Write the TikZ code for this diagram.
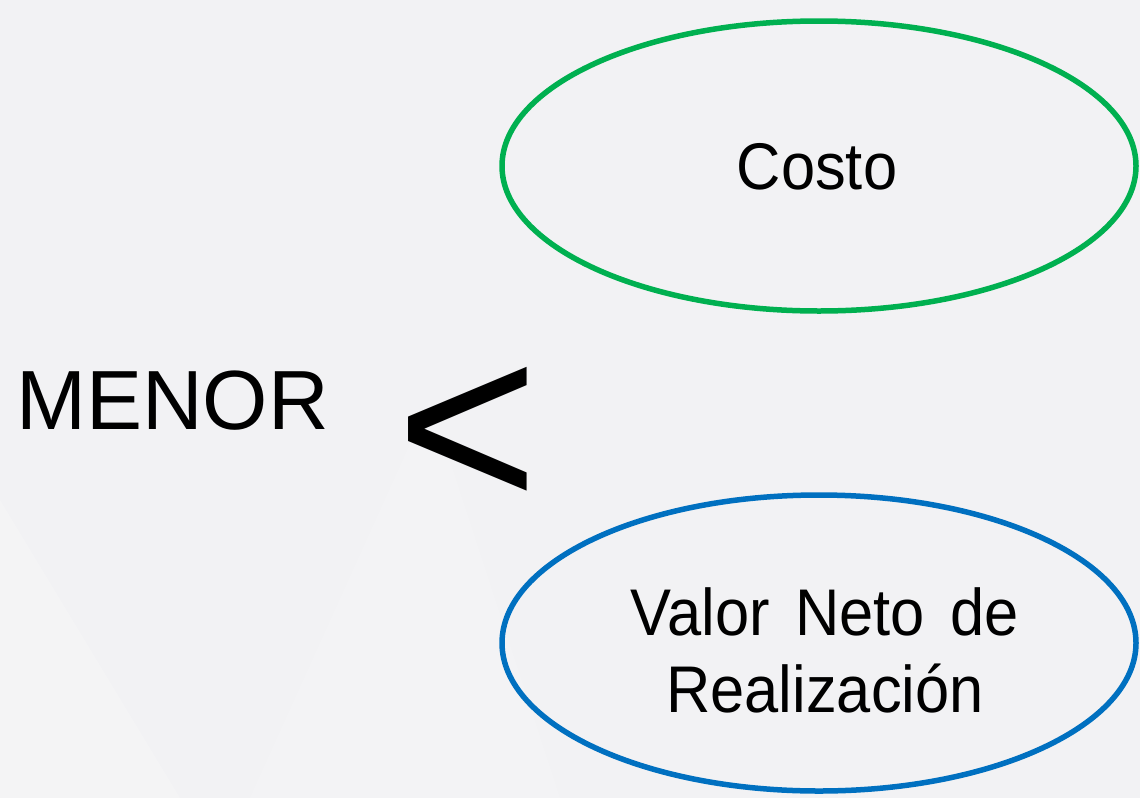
\documentclass[tikz,border=0pt]{standalone}
\usepackage{fontspec}
\setmainfont{Liberation Sans}
\usetikzlibrary{shapes.geometric}
\definecolor{bgc}{RGB}{242,242,244}
\definecolor{pgreen}{RGB}{0,176,80}
\definecolor{pblue}{RGB}{0,112,192}
\tikzset{
  oval/.style={ellipse, draw=#1, line width=5.5pt, minimum width=634pt, minimum height=290pt, inner sep=0pt},
  lbl/.style={anchor=base, inner sep=0pt, text=black},
}
\begin{document}
\begin{tikzpicture}[x=1pt,y=-1pt]
\fill[bgc] (0,0) rectangle (1140,798);
\useasboundingbox (0,0) rectangle (1140,798);
\fill[white,opacity=0.18] (0,500) -- (180,798) -- (0,798) -- cycle;
\fill[white,opacity=0.12] (250,798) -- (430,400) -- (560,798) -- cycle;
\node[oval=pgreen] (costo) at (819,166) {};
\node[oval=pblue, minimum height=296pt] (vnr) at (819,643) {};
\node[lbl] (tcosto) at (817,189) {\fontsize{66}{77}\selectfont\scalebox{0.93}[1]{Costo}};
\node[lbl] (tvnr) at (825,635) {\fontsize{66}{77}\selectfont\scalebox{0.93}[1]{\begin{tabular}[t]{@{}c@{}}Valor\hspace{0.42em}Neto\hspace{0.42em}de\\Realización\end{tabular}}};
\node[lbl, anchor=base west] (menor) at (16,429) {\fontsize{84}{90}\selectfont MENOR};
\node[lbl] (lt) at (468,509) {\fontsize{244}{244}\selectfont <};
\end{tikzpicture}
\end{document}
